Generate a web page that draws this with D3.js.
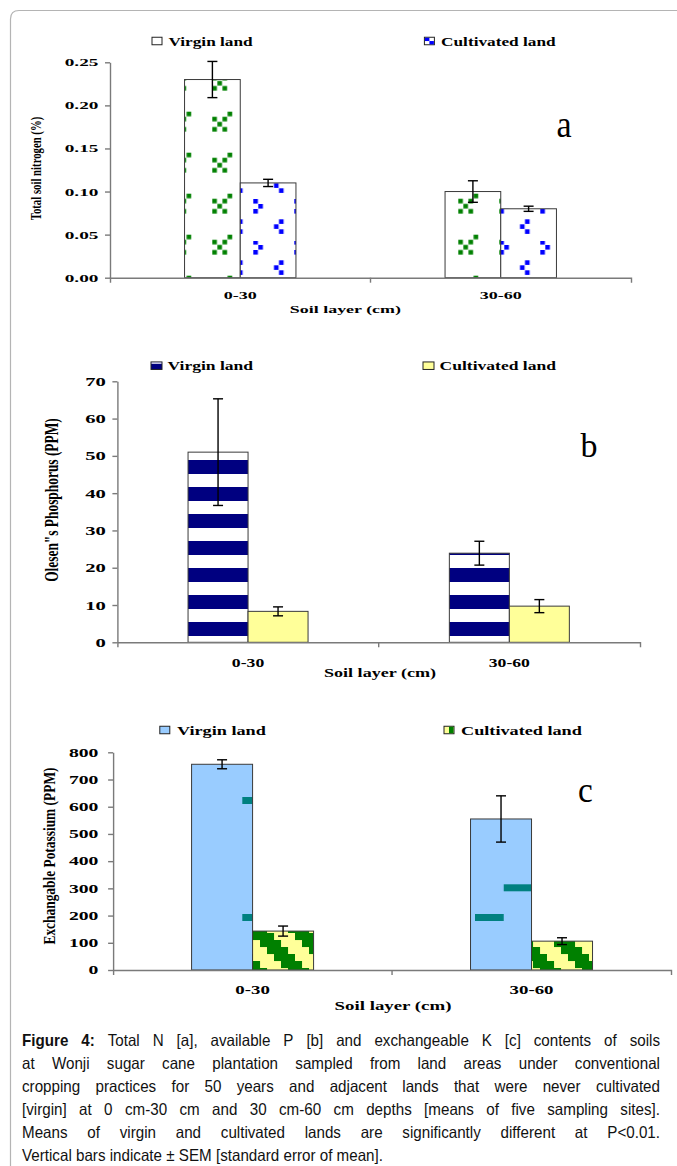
<!DOCTYPE html>
<html><head><meta charset="utf-8">
<script src="https://cdn.jsdelivr.net/npm/d3@7"></script>
<style>body{margin:0;background:#fff}</style>
</head><body>
<svg id="c" width="677" height="1166"></svg>
<script>
// ---------- data ----------
const categories = ["0-30", "30-60"];
const seriesNames = ["Virgin land", "Cultivated land"];
const nitrogenVirgin = [0.23, 0.10];
const nitrogenVirginSE = [0.021, 0.0125];
const nitrogenCultivated = [0.11, 0.08];
const nitrogenCultivatedSE = [0.0042, 0.003];
const phosphorusVirgin = [51, 23.9];
const phosphorusVirginSE = [14.3, 3.2];
const phosphorusCultivated = [8.3, 9.7];
const phosphorusCultivatedSE = [1.2, 1.75];
const potassiumVirgin = [756, 555];
const potassiumVirginSE = [16.5, 85];
const potassiumCultivated = [143, 106];
const potassiumCultivatedSE = [18.5, 12.5];
const nitrogenTicks = [0, 0.05, 0.10, 0.15, 0.20, 0.25];
const phosphorusTicks = [0, 10, 20, 30, 40, 50, 60, 70];
const potassiumTicks = [0, 100, 200, 300, 400, 500, 600, 700, 800];
const xTitle = "Soil layer (cm)";
const yTitles = ["Total soil nitrogen (%)", "Olesen\"s Phosphorus (PPM)", "Exchangable Potassium  (PPM)"];
const panelLetters = ["a", "b", "c"];
const captionLines = [
  "Figure 4: Total N [a], available P [b] and exchangeable K [c] contents of soils",
  "at Wonji sugar cane plantation sampled from land areas under conventional",
  "cropping practices for 50 years and adjacent lands that were never cultivated",
  "[virgin] at 0 cm-30 cm and 30 cm-60 cm depths [means of five sampling sites].",
  "Means of virgin and cultivated lands are significantly different at P<0.01.",
  "Vertical bars indicate \u00b1 SEM [standard error of mean]."
];

const svg = d3.select("#c");
const SERIF = "'Liberation Serif','Times New Roman',serif";
const SANS = "'Liberation Sans',Arial,sans-serif";

// frame
svg.append("path").attr("d", "M10.5,1166 V19 Q10.5,10.5 19,10.5 H677")
  .attr("fill", "none").attr("stroke", "#b4b4b4").attr("stroke-width", 1.2);

// ---------- patterns ----------
const defs = svg.append("defs");
function pat(id, x, y, w, h, bg) {
  const p = defs.append("pattern").attr("id", id).attr("patternUnits", "userSpaceOnUse")
    .attr("x", x).attr("y", y).attr("width", w).attr("height", h);
  p.append("rect").attr("width", w).attr("height", h).attr("fill", bg);
  return p;
}
// a virgin: green X motif
{
  const p = pat("pAv", 212.3, 111.7, 41, 41, "#fff");
  const c = 5.1;
  [[3,0],[0,1],[2,1],[1,2],[0,3],[2,3]].forEach(([i,j]) =>
    p.append("rect").attr("x", i*c).attr("y", j*c).attr("width", 4.6).attr("height", 4.6).attr("fill", "#008000"));
}
// a cultivated: blue chevrons (half drop)
{
  const p = pat("pAc", 253.3, 199, 41, 41, "#fff");
  const c = 5;
  [[0,0],[1,1],[0,2]].forEach(([i,j]) =>
    p.append("rect").attr("x", i*c).attr("y", j*c).attr("width", 4.6).attr("height", 4.6).attr("fill", "#0000ff"));
  [[1,0],[0,1],[1,2]].forEach(([i,j]) =>
    p.append("rect").attr("x", 20.7 + i*c).attr("y", 20.3 + j*c).attr("width", 4.6).attr("height", 4.6).attr("fill", "#0000ff"));
}
// b virgin: navy horizontal stripes
{
  const p = pat("pBv", 0, 1, 10, 27, "#fff");
  p.append("rect").attr("width", 10).attr("height", 14).attr("fill", "#000080");
}
// b cultivated: pale yellow
pat("pBc", 0, 0, 10, 10, "#ffff99");
// c virgin: light blue with teal dashes
{
  const p = pat("pCv", 242.3, 914, 116.35, 117, "#99ccff");
  p.append("rect").attr("x", 0).attr("y", 0).attr("width", 28.7).attr("height", 7).attr("fill", "#008080");
  p.append("rect").attr("x", 28.7).attr("y", 87.3).attr("width", 28.7).attr("height", 7).attr("fill", "#008080");
}
// c cultivated: yellow with green staircase diagonals
{
  const p = pat("pCc", 253, 933, 42, 42, "#ffff99");
  for (let i = 0; i < 6; i++) {
    for (let k = 0; k < 3; k++) {
      const col = (i + k) % 6;
      p.append("rect").attr("x", col*7).attr("y", i*7).attr("width", 7.05).attr("height", 7.05).attr("fill", "#008000");
    }
  }
}

// ---------- text helper ----------
function stext(g, x, y, str, o) {
  const t = g.append("text")
    .attr("transform", `translate(${x},${y}) scale(${o.sx||1},1)` + (o.rot ? " rotate(-90)" : ""))
    .attr("text-anchor", o.anchor || "start")
    .attr("font-family", o.family || SERIF)
    .attr("font-size", o.size)
    .attr("font-weight", o.weight || "bold")
    .attr("fill", "#000")
    .text(str);
  if (o.dy) t.attr("dy", o.dy);
  return t;
}

// ---------- panels ----------
const panels = [
  { values: [nitrogenVirgin, nitrogenCultivated], errs: [nitrogenVirginSE, nitrogenCultivatedSE],
    ticks: nitrogenTicks, fmt: d3.format(".2f"), fills: ["url(#pAv)", "url(#pAc)"],
    x0: 110, x1: 631, y0: 277.7, y1: 62.3, bw: 55.7,
    tick: { size: 11, sx: 1.75, pad: 6.6 },
    xlab: { size: 11, sx: 1.64, off: 21.2 }, xt: { size: 11, sx: 1.63, x: 345.4, y: 313 },
    yt: { size: 10.75, sx: 1.4, x: 35.4, y: 168.5 },
    letter: { size: 37, sx: 0.92, x: 564, y: 137, weight: "normal" },
    legend: { y: 41, size: 13, sx: 1.33, sw: [152, 424.4], tx: [168.4, 441] } },
  { values: [phosphorusVirgin, phosphorusCultivated], errs: [phosphorusVirginSE, phosphorusCultivatedSE],
    ticks: phosphorusTicks, fmt: d3.format("d"), fills: ["url(#pBv)", "url(#pBc)"],
    x0: 117.4, x1: 640, y0: 642.3, y1: 381.3, bw: 60,
    tick: { size: 12.5, sx: 1.65, pad: 6.6 },
    xlab: { size: 13, sx: 1.36, off: 25.2 }, xt: { size: 13, sx: 1.39, x: 380, y: 676.5 },
    yt: { size: 13.4, sx: 1.36, x: 51.8, y: 500 },
    letter: { size: 34, sx: 1.0, x: 589, y: 457, weight: "normal" },
    legend: { y: 365.7, size: 13, sx: 1.35, sw: [151, 423], tx: [167.5, 439.5] } },
  { values: [potassiumVirgin, potassiumCultivated], errs: [potassiumVirginSE, potassiumCultivatedSE],
    ticks: potassiumTicks, fmt: d3.format("d"), fills: ["url(#pCv)", "url(#pCc)"],
    x0: 113.1, x1: 671, y0: 970, y1: 752.3, bw: 61,
    tick: { size: 12, sx: 1.64, pad: 9.7 },
    xlab: { size: 13, sx: 1.45, off: 24 }, xt: { size: 13, sx: 1.45, x: 393, y: 1010 },
    yt: { size: 13.4, sx: 1.3, x: 48.4, y: 856 },
    letter: { size: 35, sx: 0.95, x: 585.5, y: 801.7, weight: "normal" },
    legend: { y: 730, size: 13.5, sx: 1.35, sw: [159.8, 444], tx: [177, 461] } }
];

const legendSwatches = [
  [ (g,x,y)=>{ g.append("rect").attr("x",x).attr("y",y).attr("width",10).attr("height",7.5).attr("fill","#fff").attr("stroke","#222"); },
    (g,x,y)=>{ g.append("rect").attr("x",x).attr("y",y).attr("width",10).attr("height",7.5).attr("fill","#fff").attr("stroke","#222");
               g.append("rect").attr("x",x+0.5).attr("y",y+0.5).attr("width",4.5).attr("height",3.3).attr("fill","#0000ff");
               g.append("rect").attr("x",x+5).attr("y",y+3.8).attr("width",4.5).attr("height",3.3).attr("fill","#0000ff"); } ],
  [ (g,x,y)=>{ g.append("rect").attr("x",x).attr("y",y).attr("width",11).attr("height",7.5).attr("fill","#000080").attr("stroke","#222");
               g.append("rect").attr("x",x+0.5).attr("y",y+0.5).attr("width",10).attr("height",1.3).attr("fill","#fff"); },
    (g,x,y)=>{ g.append("rect").attr("x",x).attr("y",y).attr("width",11).attr("height",7.5).attr("fill","#ffff99").attr("stroke","#222"); } ],
  [ (g,x,y)=>{ g.append("rect").attr("x",x).attr("y",y).attr("width",10).attr("height",7.5).attr("fill","#99ccff").attr("stroke","#222"); },
    (g,x,y)=>{ g.append("rect").attr("x",x).attr("y",y).attr("width",10).attr("height",7.5).attr("fill","#ffff99").attr("stroke","#222");
               g.append("rect").attr("x",x+5).attr("y",y+0.5).attr("width",4.5).attr("height",6.5).attr("fill","#008000"); } ]
];

panels.forEach((P, pi) => {
  const g = svg.append("g");
  const x = d3.scaleBand().domain(categories).range([P.x0, P.x1]).padding(0);
  const y = d3.scaleLinear().domain([0, d3.max(P.ticks)]).range([P.y0, P.y1]);

  // bars
  P.values.forEach((vals, si) => {
    g.selectAll(null).data(categories).enter().append("rect")
      .attr("x", (d) => x(d) + x.bandwidth() / 2 - (si === 0 ? P.bw : 0))
      .attr("y", (d, i) => y(vals[i]))
      .attr("width", P.bw)
      .attr("height", (d, i) => y(0) - y(vals[i]))
      .attr("fill", P.fills[si])
      .attr("stroke", "#3a3a3a").attr("stroke-width", 1);
  });
  // error bars
  P.values.forEach((vals, si) => {
    const errs = P.errs[si];
    categories.forEach((d, i) => {
      const cx = x(d) + x.bandwidth() / 2 + (si === 0 ? -P.bw / 2 : P.bw / 2);
      const top = y(vals[i] + errs[i]), bot = y(vals[i] - errs[i]);
      g.append("line").attr("x1", cx).attr("x2", cx).attr("y1", top).attr("y2", bot).attr("stroke", "#000").attr("stroke-width", 1.4);
      [top, bot].forEach(yy => g.append("line").attr("x1", cx - 5).attr("x2", cx + 5).attr("y1", yy).attr("y2", yy).attr("stroke", "#000").attr("stroke-width", 1.4));
    });
  });

  // y axis
  const ya = g.append("g").attr("transform", `translate(${P.x0},0)`)
    .call(d3.axisLeft(y).tickValues(P.ticks).tickFormat(P.fmt).tickSize(5).tickSizeOuter(0).tickPadding(P.tick.pad));
  ya.select(".domain").attr("stroke", "#7a7a7a").attr("stroke-width", 1.4);
  ya.selectAll(".tick line").attr("stroke", "#7a7a7a").attr("stroke-width", 1.4);
  ya.selectAll(".tick text").attr("font-family", SERIF).attr("font-weight", "bold").attr("font-size", P.tick.size)
    .attr("fill", "#000").attr("transform", `scale(${P.tick.sx},1)`).attr("x", -(5 + P.tick.pad) / P.tick.sx);

  // x axis
  const xa = g.append("g").attr("transform", `translate(0,${P.y0})`)
    .call(d3.axisBottom(x).tickSize(0).tickSizeOuter(5).tickPadding(0));
  xa.select(".domain").attr("stroke", "#7a7a7a").attr("stroke-width", 1.4);
  xa.selectAll(".tick text").attr("font-family", SERIF).attr("font-weight", "bold").attr("font-size", P.xlab.size)
    .attr("fill", "#000").attr("dy", null).attr("y", P.xlab.off).attr("transform", `scale(${P.xlab.sx},1)`);
  categories.slice(1).forEach(d => {
    g.append("line").attr("x1", x(d)).attr("x2", x(d)).attr("y1", P.y0).attr("y2", P.y0 + 5)
      .attr("stroke", "#7a7a7a").attr("stroke-width", 1.4);
  });

  // titles
  stext(g, P.xt.x, P.xt.y, xTitle, { size: P.xt.size, sx: P.xt.sx, anchor: "middle" });
  stext(g, P.yt.x, P.yt.y, yTitles[pi], { size: P.yt.size, sx: P.yt.sx, anchor: "middle", rot: true, dy: "0.35em" });
  stext(g, P.letter.x, P.letter.y, panelLetters[pi], { size: P.letter.size, sx: P.letter.sx, anchor: "middle", weight: P.letter.weight });

  // legend
  seriesNames.forEach((name, si) => {
    legendSwatches[pi][si](g, P.legend.sw[si], P.legend.y - 3.75);
    stext(g, P.legend.tx[si], P.legend.y + P.legend.size * 0.35, name, { size: P.legend.size, sx: P.legend.sx });
  });
});

// ---------- caption ----------
const CS = 0.92, CW = 638 / CS;
const cg = svg.append("g").attr("transform", `translate(22,0) scale(${CS},1)`)
  .attr("font-family", SANS).attr("font-size", 16.5).attr("fill", "#111");
captionLines.forEach((line, i) => {
  const words = line.split(" ");
  const yb = 1046.5 + i * 23;
  const els = words.map((w, j) => cg.append("text").attr("y", yb)
    .attr("font-weight", (i === 0 && j < 2) ? "bold" : "normal").text(w));
  const widths = els.map(e => e.node().getComputedTextLength());
  const total = d3.sum(widths);
  const justify = i < captionLines.length - 1;
  let gap = justify ? (CW - total) / (words.length - 1) : 4.6;
  let scaleX = 1;
  if (justify && gap < 2.5) { gap = 2.5; }
  let xx = 0;
  els.forEach((e, j) => { e.attr("x", xx); xx += widths[j] + gap; });
});
</script>
</body></html>
